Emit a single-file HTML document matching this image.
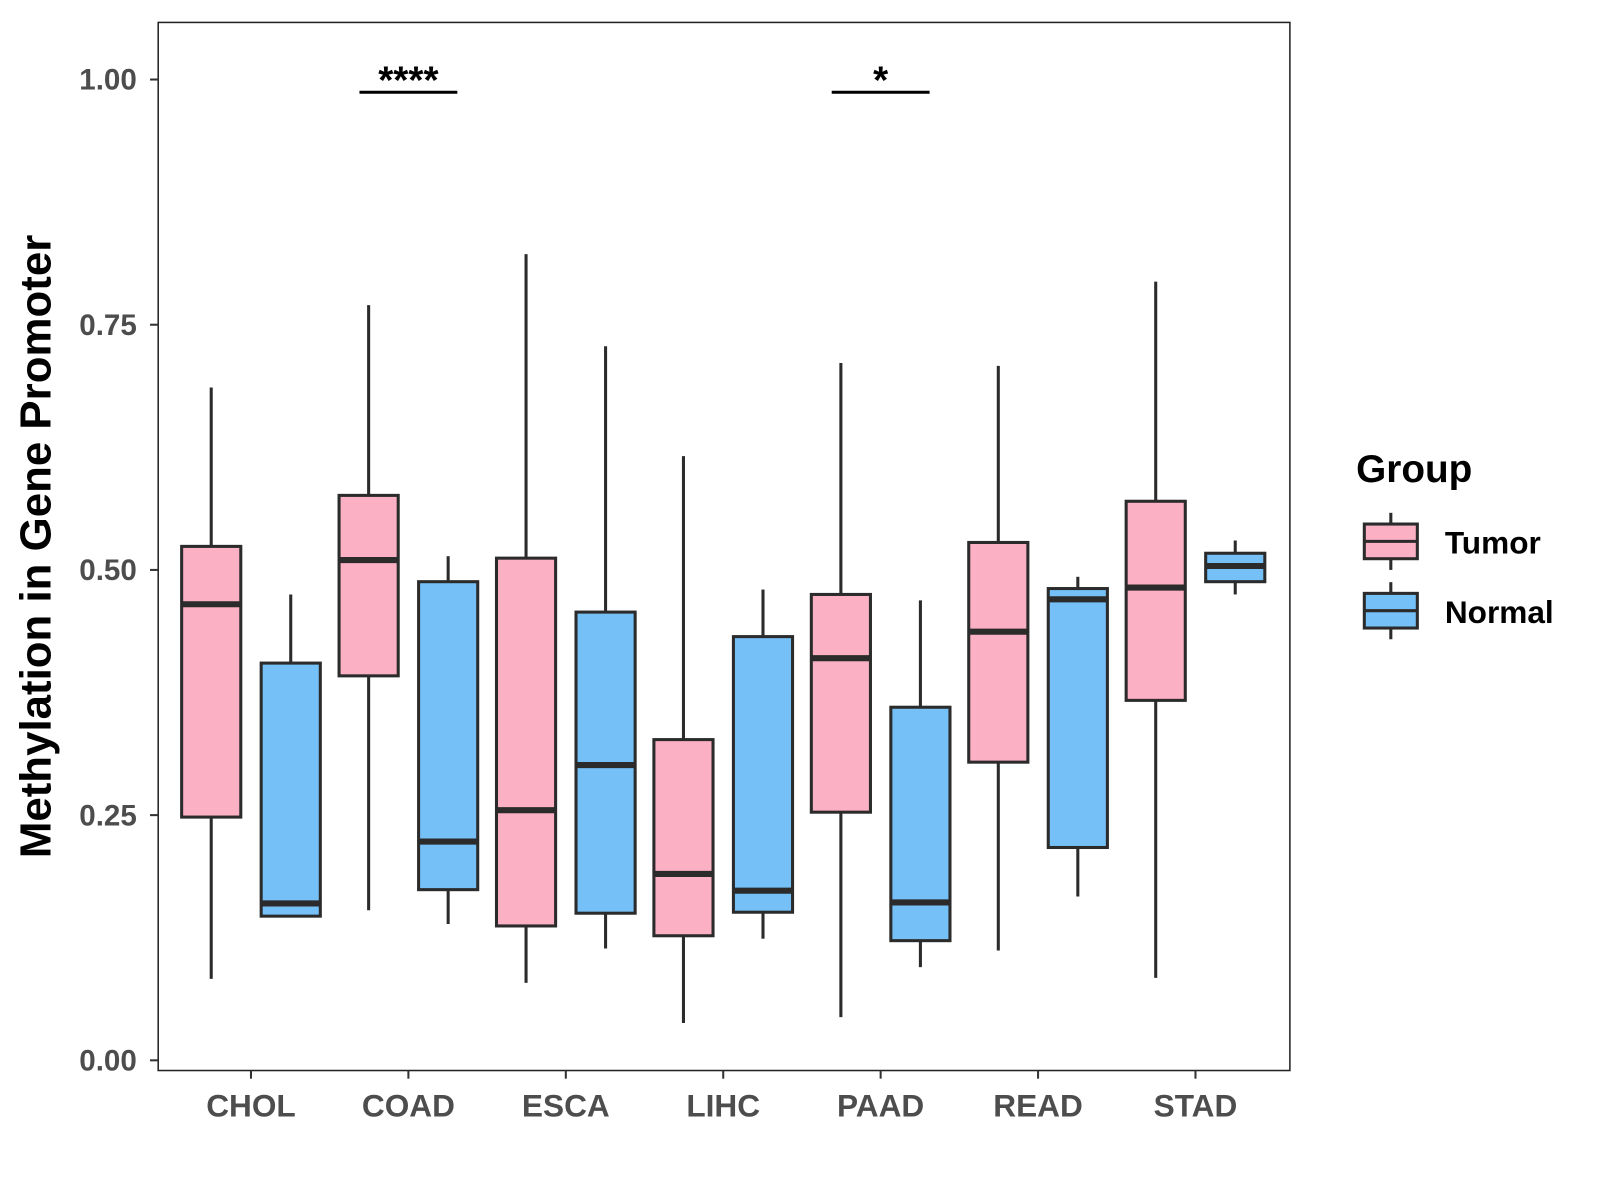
<!DOCTYPE html>
<html><head><meta charset="utf-8"><style>
body{margin:0;background:#fff;}
svg{display:block;font-family:"Liberation Sans",Arial,sans-serif;font-weight:bold;}
</style></head><body>
<svg id="chart" width="1600" height="1200" viewBox="0 0 1569 1177">
<rect x="155" y="22" width="1110" height="1028" fill="#fff" stroke="#222" stroke-width="1.5"/>
<g id="yaxis"></g>
<g id="xaxis"></g>
<g id="boxes"></g>
<g id="sig"></g>
<text x="38" y="536" font-size="43" fill="#000" text-anchor="middle" transform="rotate(-90 38 536)" dominant-baseline="middle">Methylation in Gene Promoter</text>
<g>
<text x="1330" y="473" font-size="38" fill="#000">Group</text>
<g>
<line x1="1364" y1="503" x2="1364" y2="559" stroke="#2b2b2b" stroke-width="3"/>
<rect x="1338" y="514" width="52" height="34" fill="#FBB0C3" stroke="#2b2b2b" stroke-width="3"/>
<line x1="1338" y1="531" x2="1390" y2="531" stroke="#2b2b2b" stroke-width="3"/>
<text x="1417" y="543" font-size="31" fill="#000">Tumor</text></g>
<g>
<line x1="1364" y1="571" x2="1364" y2="627" stroke="#2b2b2b" stroke-width="3"/>
<rect x="1338" y="582" width="52" height="34" fill="#74C0F7" stroke="#2b2b2b" stroke-width="3"/>
<line x1="1338" y1="599" x2="1390" y2="599" stroke="#2b2b2b" stroke-width="3"/>
<text x="1417" y="611" font-size="31" fill="#000">Normal</text></g>
</g>
</svg>
<script>
const categories=["CHOL","COAD","ESCA","LIHC","PAAD","READ","STAD"];
const tumorLow=[0.083,0.153,0.079,0.038,0.044,0.112,0.084];
const tumorQ1=[0.248,0.392,0.137,0.127,0.253,0.304,0.367];
const tumorMed=[0.465,0.510,0.255,0.190,0.410,0.437,0.482];
const tumorQ3=[0.524,0.576,0.512,0.327,0.475,0.528,0.570];
const tumorHigh=[0.686,0.770,0.822,0.616,0.711,0.708,0.794];
const normalLow=[0.147,0.139,0.114,0.124,0.095,0.167,0.475];
const normalQ1=[0.147,0.174,0.150,0.151,0.122,0.217,0.488];
const normalMed=[0.160,0.223,0.301,0.173,0.161,0.470,0.504];
const normalQ3=[0.405,0.488,0.457,0.432,0.360,0.481,0.517];
const normalHigh=[0.475,0.514,0.728,0.480,0.469,0.493,0.530];
const yTicks=[0,0.25,0.5,0.75,1.0];
const yTickLabels=["0.00","0.25","0.50","0.75","1.00"];
const sigCategories=["COAD","PAAD"];
const sigLabels=["****","*"];
const sigLevel=[0.987,0.987];

const NS="http://www.w3.org/2000/svg";
const y=v=>1040-v*962;
const x=i=>246+i*154.4;
function mk(tag,attrs,parent){const e=document.createElementNS(NS,tag);for(const k in attrs)e.setAttribute(k,attrs[k]);parent.appendChild(e);return e;}
const ya=document.getElementById('yaxis'),xa=document.getElementById('xaxis'),bx=document.getElementById('boxes'),sg=document.getElementById('sig');
yTicks.forEach((t,i)=>{
  const l=mk('line',{x1:147,x2:155,y1:y(t),y2:y(t),stroke:'#333','stroke-width':2},ya);
  
  
  const tx=mk('text',{x:134,y:y(t)+10,'font-size':29,fill:'#4d4d4d','text-anchor':'end'},ya);
  tx.textContent=yTickLabels[i];
  
  
});
categories.forEach((c,i)=>{
  const l=mk('line',{x1:x(i),x2:x(i),y1:1050,y2:1058,stroke:'#333','stroke-width':2},xa);
  
  
  const tx=mk('text',{x:x(i),y:1095,'font-size':31,fill:'#4d4d4d','text-anchor':'middle'},xa);
  tx.textContent=c;
  
  
});
function box(cx,lo,q1,md,q3,hi,fill,name){
  const g=mk('g',{},bx);
  
  
  const s='#2b2b2b';
  mk('line',{x1:cx,x2:cx,y1:y(hi),y2:y(q3),stroke:s,'stroke-width':3},g);
  mk('line',{x1:cx,x2:cx,y1:y(q1),y2:y(lo),stroke:s,'stroke-width':3},g);
  mk('rect',{x:cx-29,y:y(q3),width:58,height:Math.max(0.5,y(q1)-y(q3)),fill:fill,stroke:s,'stroke-width':3},g);
  mk('line',{x1:cx-29,x2:cx+29,y1:y(md),y2:y(md),stroke:s,'stroke-width':6},g);
}
categories.forEach((c,i)=>{
  box(x(i)-39,tumorLow[i],tumorQ1[i],tumorMed[i],tumorQ3[i],tumorHigh[i],'#FBB0C3','box-'+c.toLowerCase()+'-tumor');
  box(x(i)+39,normalLow[i],normalQ1[i],normalMed[i],normalQ3[i],normalHigh[i],'#74C0F7','box-'+c.toLowerCase()+'-normal');
});
sigCategories.forEach((c,k)=>{
  const i=categories.indexOf(c);
  const l=mk('line',{x1:x(i)-48,x2:x(i)+48,y1:y(sigLevel[k]),y2:y(sigLevel[k]),stroke:'#000','stroke-width':3},sg);
  
  
  const t=mk('text',{x:x(i),y:y(sigLevel[k])+1,'font-size':38,fill:'#000','text-anchor':'middle'},sg);
  t.textContent=sigLabels[k];
  
  
});
</script>
</body></html>
